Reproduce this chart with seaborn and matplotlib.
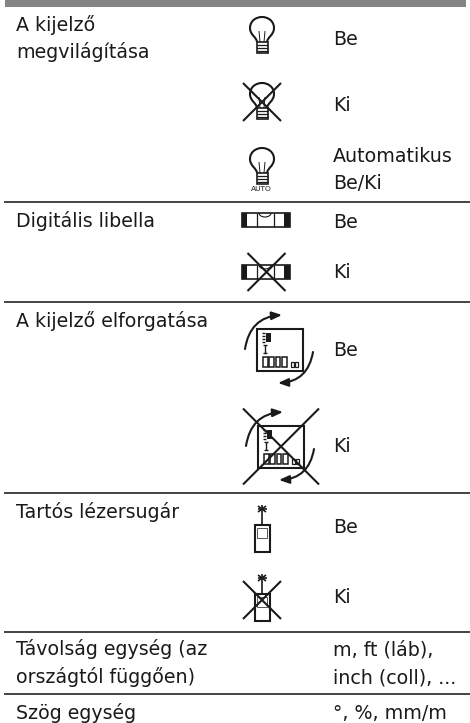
import matplotlib
matplotlib.use("Agg")
import matplotlib.pyplot as plt
import matplotlib.patches as mp
from matplotlib.path import Path
import seaborn as sns

# table content
sns.set_theme(style="white")
plt.rcParams['font.family'] = ['DejaVu Sans']

W = 470
H = 723

row_lines = ["A kijelző", "megvilágítása", "Digitális libella", "A kijelző elforgatása",
             "Tartós lézersugár", "Távolság egység (az", "országtól függően)", "Szög egység"]
row_base = [31, 58, 227, 327, 518, 655, 683, 719]
value_lines = ["Be", "Ki", "Automatikus", "Be/Ki", "Be", "Ki", "Be", "Ki", "Be", "Ki",
               "m, ft (láb),", "inch (coll), ...", "°, %, mm/m"]
value_base = [45, 111, 162, 189, 228, 278, 356, 452, 533, 603, 655, 683, 719]
rule_y = [202, 302, 493, 632, 694]

fig = plt.figure(figsize=(W / 100, H / 100), dpi=100)
ax = fig.add_axes([0, 0, 1, 1])
ax.set_xlim(0, W)
ax.set_ylim(H, 0)
ax.axis("off")

INK = "#1a1a1a"
FS = 13.7


def line(xs, ys, lw=1.3, c=INK):
    ax.plot(xs, ys, color=c, lw=lw, solid_capstyle="butt")


def rect(x, y, w, h, lw=1.0, fc="none", ec=INK):
    ax.add_patch(mp.Rectangle((x, y), w, h, fc=fc, ec=ec, lw=lw))


def cross(cx, cy, r):
    line([cx - r, cx + r], [cy - r, cy + r], 1.5)
    line([cx - r, cx + r], [cy + r, cy - r], 1.5)


def bulb(cx, top):
    # top is the upper edge of the glass
    verts = [(cx - 5, top + 25),
             (cx - 5.5, top + 20), (cx - 12, top + 18), (cx - 12, top + 11),
             (cx - 12, top + 4), (cx - 6, top), (cx, top),
             (cx + 6, top), (cx + 12, top + 4), (cx + 12, top + 11),
             (cx + 12, top + 18), (cx + 5.5, top + 20), (cx + 5, top + 25)]
    codes = [Path.MOVETO] + [Path.CURVE4] * 12
    ax.add_patch(mp.PathPatch(Path(verts, codes), fc="none", ec=INK, lw=1.5))
    line([cx - 3, cx - 2], [top + 14, top + 25], 0.7)
    line([cx + 3, cx + 2], [top + 14, top + 25], 0.7)
    rect(cx - 5.5, top + 25, 11, 11, 1.2)
    for d in (28, 31, 34):
        line([cx - 5.5, cx + 5.5], [top + d, top + d], 0.9)


def level(cx, cy):
    rect(cx - 24, cy - 7, 48, 14, 1.2)
    rect(cx - 24, cy - 7, 5, 14, 0, fc=INK)
    rect(cx + 18, cy - 7, 6, 14, 0, fc=INK)
    line([cx - 9, cx - 9], [cy - 7, cy + 7], 0.9)
    line([cx + 8, cx + 8], [cy - 7, cy + 7], 0.9)
    ax.add_patch(mp.Arc((cx - 1, cy - 7), 12, 8, theta1=0, theta2=180, color=INK, lw=0.8))


def display(cx, cy):
    rect(cx - 23, cy - 21, 46, 42, 1.5)
    rect(cx - 14, cy - 17, 5, 9, 0, fc=INK)
    for d in (-17, -14, -11, -8):
        line([cx - 18, cx - 15], [cy + d, cy + d], 1.0)
    line([cx - 15, cx - 15], [cy - 5, cy + 3], 1.0)
    line([cx - 17, cx - 13], [cy - 5, cy - 5], 1.0)
    line([cx - 17, cx - 13], [cy + 3, cy + 3], 1.0)
    for i in range(4):
        rect(cx - 17 + i * 6.3, cy + 7, 4.6, 10, 1.1)
    for i in range(2):
        rect(cx + 11 + i * 4, cy + 12, 2.8, 5, 0.9)


def rotate(cx, cy):
    display(cx, cy)
    ax.annotate("", xy=(cx + 2, cy - 35), xytext=(cx - 35, cy - 1),
                arrowprops=dict(arrowstyle="-|>,head_width=0.2,head_length=0.5", color=INK, lw=1.5,
                                connectionstyle="arc3,rad=-0.4", shrinkA=0, shrinkB=0))
    ax.annotate("", xy=(cx - 2, cy + 33), xytext=(cx + 33, cy + 2),
                arrowprops=dict(arrowstyle="-|>,head_width=0.2,head_length=0.5", color=INK, lw=1.5,
                                connectionstyle="arc3,rad=-0.4", shrinkA=0, shrinkB=0))


def laser(cx, cy):
    # cy is the centre of the little star
    line([cx - 4, cx + 4], [cy - 3, cy + 3], 1.2)
    line([cx - 4, cx + 4], [cy + 3, cy - 3], 1.2)
    line([cx - 4.5, cx + 4.5], [cy, cy], 1.2)
    line([cx, cx], [cy - 4, cy + 4], 1.2)
    line([cx, cx], [cy + 4, cy + 16], 1.2)
    rect(cx - 7.5, cy + 16, 15, 27, 1.5)
    rect(cx - 5, cy + 19, 10, 10, 0.7, ec="#555555")


# header bar and rules
ax.add_patch(mp.Rectangle((5, 0), 461, 7, fc="#848484", ec="none"))
for y in rule_y:
    line([4, 470], [y, y], 1.1, "#111111")

for txt, y in zip(row_lines, row_base):
    ax.text(16, y, txt, fontsize=FS, color=INK, va="baseline")
for txt, y in zip(value_lines, value_base):
    ax.text(333, y, txt, fontsize=FS, color=INK, va="baseline")

# icons
bulb(262, 17)
bulb(262, 83)
cross(262, 102, 19)
bulb(262, 148)
ax.text(261, 189, "AUTO", fontsize=5.4, color=INK, ha="center", va="center")
level(266, 220)
level(266, 272)
cross(266.5, 272, 19)
rotate(280, 350)
rotate(281, 447)
cross(281, 446.5, 38)
laser(262, 509)
laser(262, 578)
cross(262, 600, 19)

plt.savefig("out.png", dpi=100)
